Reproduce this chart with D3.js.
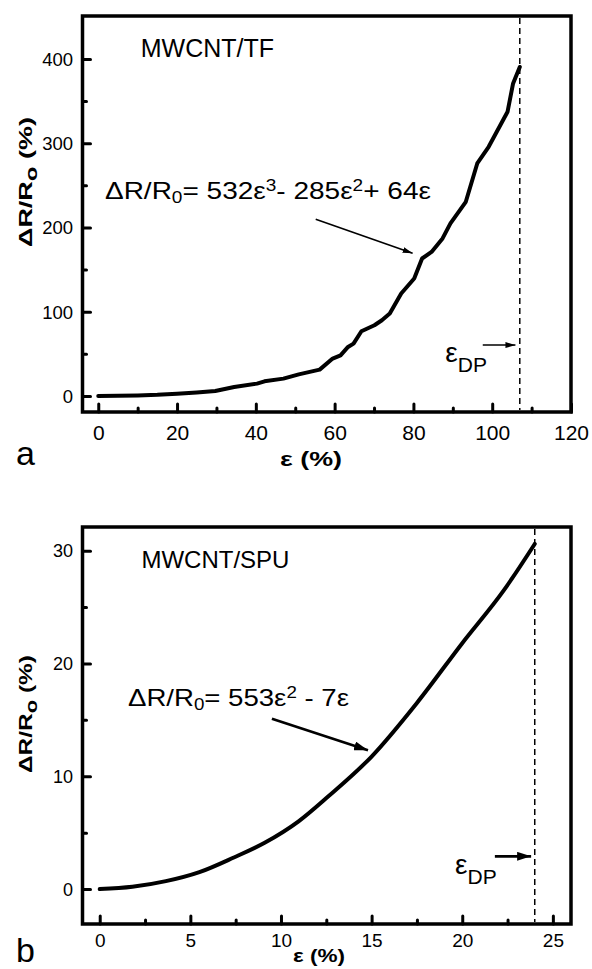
<!DOCTYPE html>
<html>
<head>
<meta charset="utf-8">
<script src="https://cdn.jsdelivr.net/npm/d3@7"></script>
<style>
  html, body { margin: 0; padding: 0; background: #fff; }
  svg { display: block; font-family: "Liberation Sans", Arial, sans-serif; }
</style>
</head>
<body>
<div id="chart"></div>
<script>
// Panel a: MWCNT/TF, strain (%) vs resistance change (%)
const strainA = [0, 5, 10, 15, 20, 25, 29.7, 34.5, 40.3, 42.2, 47, 50.9, 56.2, 59.5, 61.5, 63.4, 64.8,
                 66.8, 70.1, 72, 74, 76.9, 80.2, 82.2, 84.6, 87.4, 89.4, 93.3, 96.2, 99.1, 103.9, 105.3, 107];
const resistA = [0, 0.2, 0.6, 1.4, 2.8, 4.2, 6, 10.7, 14.7, 17.4, 20.6, 25.7, 31.3, 44.4, 48.3, 58.2, 62.2,
                 76.8, 84, 89.9, 97.8, 121.6, 139.4, 163.2, 171, 187, 204.8, 230.5, 276, 295.8, 337.4, 371, 390.5];

// Panel b: MWCNT/SPU
const strainB = [0, 1.8, 3.65, 5.5, 7.4, 9.1, 10.97, 12.6, 15, 17.5, 20, 22.3, 24];
const resistB = [0, 0.2, 0.7, 1.5, 2.8, 4.1, 6.0, 8.2, 11.75, 16.5, 21.8, 26.5, 30.6];

// Ticks
const xMajorA = [0, 20, 40, 60, 80, 100, 120];
const xMinorA = [10, 30, 50, 70, 90, 110];
const yMajorA = [0, 100, 200, 300, 400];
const yMinorA = [50, 150, 250, 350];
const xMajorB = [0, 5, 10, 15, 20, 25];
const xMinorB = [2.5, 7.5, 12.5, 17.5, 22.5];
const yMajorB = [0, 10, 20, 30];
const yMinorB = [5, 15, 25];

const W = 592, H = 969;
const svg = d3.select("#chart").append("svg").attr("width", W).attr("height", H);

const defs = svg.append("defs");
function arrowMarker(id, len, wid) {
  defs.append("marker")
    .attr("id", id)
    .attr("markerUnits", "userSpaceOnUse")
    .attr("viewBox", `0 0 ${len} ${wid}`)
    .attr("refX", len).attr("refY", wid / 2)
    .attr("markerWidth", len).attr("markerHeight", wid)
    .attr("orient", "auto")
    .append("path")
    .attr("d", `M0,0 L${len},${wid / 2} L0,${wid} Z`)
    .attr("fill", "#000");
}
arrowMarker("headThin", 10, 6);
arrowMarker("headThick", 14, 9);

function drawPanel(p) {
  const x = d3.scaleLinear().domain(p.xDomain).range([p.left, p.right]);
  const y = d3.scaleLinear().domain(p.yDomain).range([p.bottom, p.top]);
  const g = svg.append("g");

  // major / minor ticks, pointing inward
  const addAxis = (axis, transform, labelled) => {
    const a = g.append("g").attr("transform", transform).call(axis);
    a.select(".domain").remove();
    a.selectAll(".tick line").attr("stroke", "#000").attr("stroke-width", 3)
      .attr("stroke-linecap", "round");
    if (!labelled) a.selectAll(".tick text").remove();
    return a;
  };

  const xa = addAxis(d3.axisBottom(x).tickValues(p.xMajor).tickSize(-8).tickFormat(d3.format("d")),
    `translate(0,${p.bottom})`, true);
  xa.selectAll(".tick text").attr("y", p.xLabelOffset).attr("dy", 0)
    .attr("font-size", p.xTickFont).attr("fill", "#000");
  addAxis(d3.axisBottom(x).tickValues(p.xMinor).tickSize(-4), `translate(0,${p.bottom})`, false);

  const ya = addAxis(d3.axisLeft(y).tickValues(p.yMajor).tickSize(-8).tickFormat(d3.format("d")),
    `translate(${p.left},0)`, true);
  ya.selectAll(".tick text").attr("x", -9.5).attr("dy", "0.35em")
    .attr("font-size", p.yTickFont).attr("fill", "#000");
  addAxis(d3.axisLeft(y).tickValues(p.yMinor).tickSize(-4), `translate(${p.left},0)`, false);

  // frame
  g.append("rect")
    .attr("x", p.left).attr("y", p.top)
    .attr("width", p.right - p.left).attr("height", p.bottom - p.top)
    .attr("fill", "none").attr("stroke", "#000").attr("stroke-width", 3.5);

  // rupture strain line
  g.append("line")
    .attr("x1", x(p.epsDP)).attr("x2", x(p.epsDP))
    .attr("y1", p.top + 2).attr("y2", p.bottom - 2)
    .attr("stroke", "#000").attr("stroke-width", 1.5).attr("stroke-dasharray", "6,4");

  // data curve
  const pts = p.xs.map((v, i) => [v, p.ys[i]]);
  g.append("path")
    .datum(pts)
    .attr("fill", "none").attr("stroke", "#000").attr("stroke-width", 4)
    .attr("stroke-linejoin", "round").attr("stroke-linecap", "round")
    .attr("d", d3.line().x(d => x(d[0])).y(d => y(d[1])).curve(p.curve));

  // sample name
  g.append("text")
    .attr("x", x(p.title[1])).attr("y", y(p.title[2]))
    .attr("font-size", p.titleFont).text(p.title[0]);

  // fit equation
  const eq = g.append("text")
    .attr("x", x(p.eqPos[0])).attr("y", y(p.eqPos[1]))
    .attr("font-size", p.eqFont).attr("textLength", p.eqLength)
    .attr("lengthAdjust", "spacingAndGlyphs");
  p.eqParts.forEach(([str, kind]) => {
    const t = eq.append("tspan").text(str);
    if (kind === "sub") t.attr("font-size", p.eqFont * 0.68).attr("baseline-shift", "-22%");
    if (kind === "sup") t.attr("font-size", p.eqFont * 0.68).attr("baseline-shift", "48%");
  });

  g.append("line")
    .attr("x1", x(p.eqArrow[0])).attr("y1", y(p.eqArrow[1]))
    .attr("x2", x(p.eqArrow[2])).attr("y2", y(p.eqArrow[3]))
    .attr("stroke", "#000").attr("stroke-width", p.arrowWidth)
    .attr("marker-end", `url(#${p.marker})`);

  // epsilon_DP label
  const dp = g.append("text")
    .attr("x", x(p.dpPos[0])).attr("y", y(p.dpPos[1]));
  dp.append("tspan").attr("font-size", p.epsFont).text("ε");
  dp.append("tspan").attr("font-size", p.dpFont).attr("dy", p.dpFont * 0.48).text("DP");
  g.append("line")
    .attr("x1", x(p.dpArrow[0])).attr("x2", x(p.dpArrow[1]))
    .attr("y1", y(p.dpArrow[2])).attr("y2", y(p.dpArrow[2]))
    .attr("stroke", "#000").attr("stroke-width", p.arrowWidth)
    .attr("marker-end", `url(#${p.marker})`);

  // axis titles
  const yl = g.append("text")
    .attr("transform", `translate(${p.yLabel[0]},${p.yLabel[1]}) rotate(-90)`)
    .attr("text-anchor", "middle").attr("font-weight", "bold").attr("font-size", 19)
    .attr("textLength", p.yLabel[2]).attr("lengthAdjust", "spacingAndGlyphs");
  yl.append("tspan").text("ΔR/R");
  yl.append("tspan").attr("font-size", 17).attr("baseline-shift", "-28%").text("o");
  yl.append("tspan").text(" (%)");

  g.append("text")
    .attr("x", p.xLabel[0]).attr("y", p.xLabel[1])
    .attr("text-anchor", "middle").attr("font-weight", "bold").attr("font-size", p.xLabel[2])
    .attr("textLength", p.xLabel[3]).attr("lengthAdjust", "spacingAndGlyphs")
    .text("ε (%)");

  g.append("text")
    .attr("x", 16).attr("y", p.letterY)
    .attr("font-size", 34).text(p.letter);
}

drawPanel({
  left: 82.5, right: 571, top: 16, bottom: 412,
  xDomain: [-4, 120], yDomain: [-19, 451],
  xMajor: xMajorA, xMinor: xMinorA, yMajor: yMajorA, yMinor: yMinorA,
  xs: strainA, ys: resistA, curve: d3.curveLinear,
  xTickFont: 21, yTickFont: 18.5, xLabelOffset: 28,
  epsDP: 107,
  title: ["MWCNT/TF", 10.8, 402], titleFont: 25,
  eqPos: [1.7, 234], eqFont: 24, eqLength: 326,
  eqParts: [["ΔR/R"], ["0", "sub"], ["= 532ε"], ["3", "sup"], ["- 285ε"], ["2", "sup"], ["+ 64ε"]],
  eqArrow: [55.2, 209.7, 79.8, 169.4],
  dpPos: [88.1, 40.4], dpArrow: [97.6, 105.9, 60.5], epsFont: 28, dpFont: 21,
  arrowWidth: 1.6, marker: "headThin",
  yLabel: [32, 182, 130], xLabel: [311, 466, 21, 62],
  letter: "a", letterY: 465
});

drawPanel({
  left: 82.5, right: 571, top: 527, bottom: 924,
  xDomain: [-0.95, 26], yDomain: [-3.1, 32.1],
  xMajor: xMajorB, xMinor: xMinorB, yMajor: yMajorB, yMinor: yMinorB,
  xs: strainB, ys: resistB, curve: d3.curveMonotoneX,
  xTickFont: 19, yTickFont: 18, xLabelOffset: 23,
  epsDP: 24,
  title: ["MWCNT/SPU", 2.3, 28.5], titleFont: 24,
  eqPos: [1.56, 16.2], eqFont: 24, eqLength: 221,
  eqParts: [["ΔR/R"], ["0", "sub"], ["= 553ε"], ["2", "sup"], [" - 7ε"]],
  eqArrow: [9.5, 15.1, 14.8, 12.3],
  dpPos: [19.6, 1.33], dpArrow: [21.8, 23.8, 2.9], epsFont: 28, dpFont: 21,
  arrowWidth: 2.6, marker: "headThick",
  yLabel: [32, 714, 118], xLabel: [319, 962, 18, 52],
  letter: "b", letterY: 962
});
</script>
</body>
</html>
